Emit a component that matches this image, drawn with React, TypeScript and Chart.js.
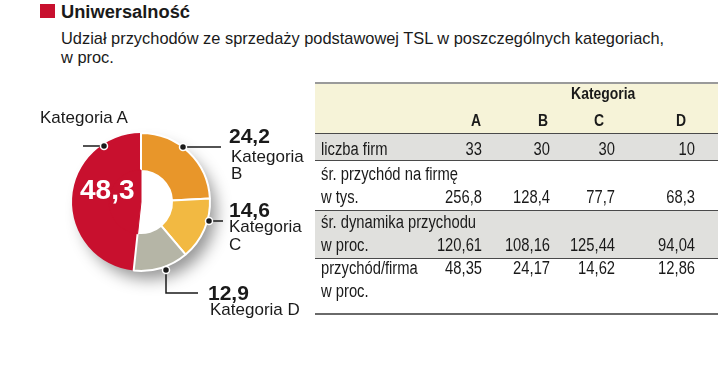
import React, { useEffect, useLayoutEffect, useRef } from "react";
import { Chart, registerables } from "chart.js";

Chart.register(...registerables);

// ---- data ----
const categories = ["A", "B", "C", "D"];
const shares = [48.3, 24.2, 14.6, 12.9];
const firmCount = [33, 30, 30, 10];
const avgRevenue = [256.8, 128.4, 77.7, 68.3];
const avgGrowth = [120.61, 108.16, 125.44, 94.04];
const revenueShare = [48.35, 24.17, 14.62, 12.86];

const titleText = "Uniwersalność";
const subtitleLines = [
  "Udział przychodów ze sprzedaży podstawowej TSL w poszczególnych kategoriach,",
  "w proc.",
];
const groupHeader = "Kategoria";
const rowLabels = [
  ["liczba firm"],
  ["śr. przychód na firmę", "w tys."],
  ["śr. dynamika przychodu", "w proc."],
  ["przychód/firma", "w proc."],
];

// ---- styles ----
const RED = "#C8102E";
const sliceColors = ["#C8102E", "#E8962A", "#F2B942", "#B5B5A6"];
const INK = "#1a1a1a";
const SANS = "'Liberation Sans', Arial, Helvetica, sans-serif";

const fmt = (v: number, d: number) => v.toFixed(d).replace(".", ",");
const total = shares.reduce((a, b) => a + b, 0);
const startRotation = -(shares[0] / total) * 360;

const shadowPlugin = {
  id: "ringShadow",
  beforeDatasetsDraw(chart: any) {
    const meta = chart.getDatasetMeta(0);
    const arc = meta.data[0];
    if (!arc) return;
    const { x, y, outerRadius } = arc.getProps(["x", "y", "outerRadius"], true);
    const ctx = chart.ctx;
    ctx.save();
    ctx.shadowColor = "rgba(0,0,0,0.42)";
    ctx.shadowBlur = 16;
    ctx.shadowOffsetX = 8;
    ctx.shadowOffsetY = 10;
    ctx.fillStyle = "#ffffff";
    ctx.beginPath();
    ctx.arc(x, y, outerRadius - 2, 0, Math.PI * 2);
    ctx.fill();
    ctx.restore();
  },
};

const canvasStyle: React.CSSProperties = { position: "absolute", left: 41, top: 102, width: 200, height: 200 };

function Donut() {
  const ringRef = useRef<HTMLCanvasElement | null>(null);
  const coreRef = useRef<HTMLCanvasElement | null>(null);
  useEffect(() => {
    if (!ringRef.current || !coreRef.current) return;
    const ring = new Chart(ringRef.current, {
      type: "doughnut",
      data: {
        labels: categories.map((c) => "Kategoria " + c),
        datasets: [
          {
            data: shares,
            backgroundColor: sliceColors,
            borderColor: "#ffffff",
            borderWidth: [0, 2, 2, 2],
          },
        ],
      },
      options: {
        responsive: false,
        animation: false,
        events: [],
        cutout: "45%",
        rotation: startRotation,
        layout: { padding: 30 },
        plugins: { legend: { display: false }, tooltip: { enabled: false } },
      },
      plugins: [shadowPlugin],
    });
    // inner solid part of the largest slice (category A reaches the centre)
    const core = new Chart(coreRef.current, {
      type: "pie",
      data: {
        labels: categories.map((c) => "Kategoria " + c),
        datasets: [
          {
            data: shares,
            backgroundColor: sliceColors.map((c, i) => (i === 0 ? c : "rgba(0,0,0,0)")),
            borderColor: sliceColors.map((c, i) => (i === 0 ? c : "rgba(0,0,0,0)")),
            borderWidth: [1, 0, 0, 0],
          },
        ],
      },
      options: {
        responsive: false,
        animation: false,
        events: [],
        radius: 32,
        rotation: startRotation,
        layout: { padding: 30 },
        plugins: { legend: { display: false }, tooltip: { enabled: false } },
      },
    });
    return () => {
      ring.destroy();
      core.destroy();
    };
  }, []);
  return (
    <>
      <canvas ref={ringRef} width={200} height={200} style={canvasStyle} />
      <canvas ref={coreRef} width={200} height={200} style={canvasStyle} />
    </>
  );
}

const abs = (left: number, top: number, extra: React.CSSProperties = {}): React.CSSProperties => ({
  position: "absolute",
  left,
  top,
  whiteSpace: "nowrap",
  ...extra,
});

// text squeezed horizontally to a given width
function FitText({ width, children, style }: { width: number; children: React.ReactNode; style: React.CSSProperties }) {
  const ref = useRef<HTMLSpanElement | null>(null);
  useLayoutEffect(() => {
    const el = ref.current;
    if (!el) return;
    el.style.transform = "none";
    const w = el.getBoundingClientRect().width;
    if (w > 0) el.style.transform = `scaleX(${width / w})`;
  }, [width]);
  return (
    <div style={style}>
      <span ref={ref} style={{ display: "inline-block", transformOrigin: "left center" }}>
        {children}
      </span>
    </div>
  );
}

function TableText({
  baseline,
  x,
  right,
  bold,
  center,
  children,
}: {
  baseline: number;
  x: number;
  right?: boolean;
  bold?: boolean;
  center?: boolean;
  children: React.ReactNode;
}) {
  const style: React.CSSProperties = {
    position: "absolute",
    top: baseline - 15,
    fontFamily: SANS,
    fontSize: bold ? 17 : 18,
    fontWeight: bold ? 700 : 400,
    lineHeight: "18px",
    whiteSpace: "nowrap",
    color: INK,
  };
  let origin = "left center";
  if (right) {
    style.left = x - 120;
    style.width = 120;
    style.textAlign = "right";
    origin = "right center";
  } else if (center) {
    style.left = x - 60;
    style.width = 120;
    style.textAlign = "center";
    origin = "center center";
  } else {
    style.left = x;
  }
  return (
    <div style={style}>
      <span style={{ display: "inline-block", transform: "scaleX(0.82)", transformOrigin: origin }}>{children}</span>
    </div>
  );
}

export default function App() {
  const valueRight = [482, 550, 615, 695];
  const letterCenter = [476, 543, 599, 681];
  const hLine = (y: number, h = 1, color = "#4a4a4a") => (
    <div key={"l" + y} style={{ position: "absolute", left: 315, top: y, width: 403, height: h, background: color }} />
  );
  const rows: { labels: string[]; labelBaselines: number[]; values: string[]; valueBaseline: number }[] = [
    { labels: rowLabels[0], labelBaselines: [155], values: firmCount.map((v) => String(v)), valueBaseline: 155 },
    { labels: rowLabels[1], labelBaselines: [180, 203], values: avgRevenue.map((v) => fmt(v, 1)), valueBaseline: 203 },
    { labels: rowLabels[2], labelBaselines: [228, 251], values: avgGrowth.map((v) => fmt(v, 2)), valueBaseline: 251 },
    { labels: rowLabels[3], labelBaselines: [274, 297], values: revenueShare.map((v) => fmt(v, 2)), valueBaseline: 274 },
  ];

  const numStyle: React.CSSProperties = { fontSize: 21, fontWeight: 700, lineHeight: "15px" };

  return (
    <div
      style={{
        position: "absolute",
        left: 0,
        top: 0,
        width: 720,
        height: 371,
        background: "#ffffff",
        overflow: "hidden",
        fontFamily: SANS,
        color: INK,
      }}
    >
      {/* title */}
      <div style={{ position: "absolute", left: 40, top: 4, width: 15, height: 14, background: RED }} />
      <FitText width={129} style={abs(61, 1, { fontSize: 18, fontWeight: 700, lineHeight: "22px" })}>
        {titleText}
      </FitText>
      <div style={abs(61, 29, { fontSize: 16.4, lineHeight: "19px" })}>
        {subtitleLines.map((l, i) => (
          <div key={i}>{l}</div>
        ))}
      </div>

      {/* doughnut */}
      <Donut />

      {/* leader lines */}
      <svg width={720} height={371} style={{ position: "absolute", left: 0, top: 0 }}>
        <g stroke={INK} strokeWidth={1.5} fill="none">
          <line x1={83} y1={146} x2={104} y2={146} />
          <line x1={183} y1={147} x2={221} y2={147} />
          <line x1={209} y1={221} x2={223} y2={221} />
          <polyline points="166,270 166,293 198,293" />
        </g>
        <g fill={INK} stroke="#ffffff" strokeWidth={1.5}>
          <circle cx={104} cy={146} r={3.5} />
          <circle cx={183} cy={147} r={3.5} />
          <circle cx={209} cy={221} r={3.5} />
          <circle cx={166} cy={270} r={3.5} />
        </g>
      </svg>

      {/* labels */}
      <div style={abs(80, 176, { fontSize: 28, fontWeight: 700, lineHeight: "28px", color: "#ffffff" })}>
        {fmt(shares[0], 1)}
      </div>
      <div style={abs(40, 109, { fontSize: 17, lineHeight: "17px" })}>Kategoria {categories[0]}</div>

      <div style={abs(229, 128, numStyle)}>{fmt(shares[1], 1)}</div>
      <div style={abs(231, 148, { fontSize: 17, lineHeight: "17px" })}>
        <div>Kategoria</div>
        <div>{categories[1]}</div>
      </div>

      <div style={abs(229, 202, numStyle)}>{fmt(shares[2], 1)}</div>
      <div style={abs(229, 218, { fontSize: 17, lineHeight: "18px" })}>
        <div>Kategoria</div>
        <div>{categories[2]}</div>
      </div>

      <div style={abs(208, 285, numStyle)}>{fmt(shares[3], 1)}</div>
      <div style={abs(210, 301, { fontSize: 17, lineHeight: "17px" })}>Kategoria {categories[3]}</div>

      {/* table backgrounds */}
      <div style={{ position: "absolute", left: 315, top: 83, width: 403, height: 50, background: "#F6F3D8" }} />
      <div style={{ position: "absolute", left: 315, top: 133, width: 403, height: 27, background: "#E0E0DD" }} />
      <div style={{ position: "absolute", left: 315, top: 210, width: 403, height: 48, background: "#E0E0DD" }} />
      {hLine(82, 2, "#9a9a9a")}
      {hLine(133)}
      {hLine(160)}
      {hLine(210)}
      {hLine(258)}
      {hLine(313, 2, "#6a6a6a")}

      {/* table header */}
      <TableText baseline={100} x={603} center bold>
        {groupHeader}
      </TableText>
      {categories.map((c, i) => (
        <TableText key={"h" + c} baseline={127} x={letterCenter[i]} center bold>
          {c}
        </TableText>
      ))}

      {/* table body */}
      {rows.map((r, ri) => (
        <React.Fragment key={"r" + ri}>
          {r.labels.map((l, li) => (
            <TableText key={"lab" + li} baseline={r.labelBaselines[li]} x={321}>
              {l}
            </TableText>
          ))}
          {r.values.map((v, vi) => (
            <TableText key={"v" + vi} baseline={r.valueBaseline} x={valueRight[vi]} right>
              {v}
            </TableText>
          ))}
        </React.Fragment>
      ))}
    </div>
  );
}
